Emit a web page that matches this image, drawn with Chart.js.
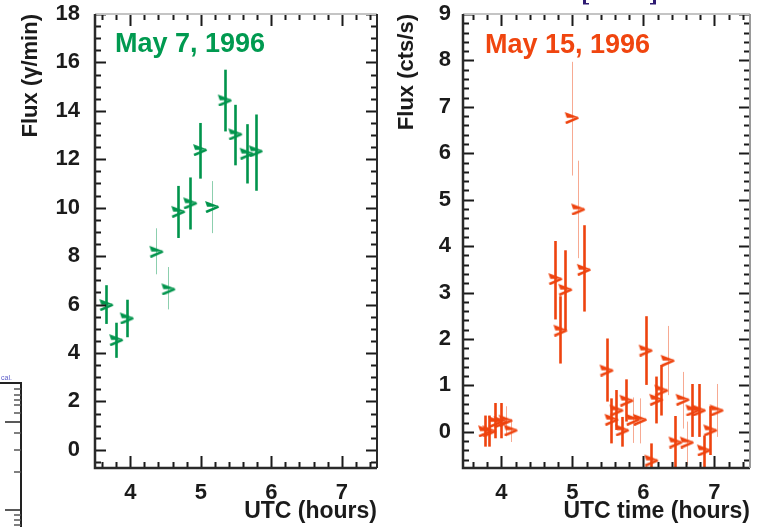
<!DOCTYPE html>
<html>
<head>
<meta charset="utf-8">
<script src="https://cdn.jsdelivr.net/npm/chart.js@4.4.1/dist/chart.umd.min.js"></script>
<style>
  html, body { margin: 0; padding: 0; background: #fff; width: 761px; height: 527px; overflow: hidden; }
  canvas { position: absolute; top: 0; }
  #edge { left: 0; }
  #may7 { left: 0; }
  #may15 { left: 385px; }
</style>
</head>
<body>
<canvas id="edge" width="761" height="527"></canvas>
<canvas id="may7" width="385" height="527"></canvas>
<canvas id="may15" width="376" height="527"></canvas>
<script>
// ---- May 7, 1996: gamma-ray flux (γ/min) vs UTC ----
const may7Time = [3.66, 3.80, 3.95, 4.37, 4.54, 4.68, 4.85, 4.99, 5.16, 5.34, 5.49, 5.65, 5.78];
const may7Flux = [6.0, 4.55, 5.45, 8.2, 6.65, 9.85, 10.2, 12.4, 10.05, 14.45, 13.05, 12.25, 12.35];
const may7Low  = [5.2, 3.8, 4.65, 7.25, 5.8, 8.75, 9.1, 11.2, 8.95, 13.15, 11.75, 11.0, 10.7];
const may7High = [6.8, 5.25, 6.2, 9.15, 7.55, 10.9, 11.25, 13.5, 11.1, 15.7, 14.25, 13.45, 13.85];
const may7YTicks = [0, 2, 4, 6, 8, 10, 12, 14, 16, 18];

// ---- May 15, 1996: count rate (cts/s) vs UTC ----
const may15Time = [3.77, 3.83, 3.91, 3.99, 4.06, 4.13, 4.76, 4.83, 4.90, 4.99, 5.08, 5.16,
                   5.48, 5.55, 5.62, 5.70, 5.76, 5.85, 5.95, 6.03, 6.11, 6.18, 6.25, 6.34,
                   6.45, 6.55, 6.61, 6.69, 6.78, 6.85, 6.94, 7.03];
const may15Flux = [0.02, 0.02, 0.22, 0.22, 0.25, 0.04, 3.30, 2.19, 3.07, 6.77, 4.80, 3.50,
                   1.33, 0.27, 0.47, 0.04, 0.68, 0.27, 0.27, 1.76, -0.61, 0.70, 0.90, 1.54,
                   -0.22, 0.70, -0.22, 0.47, 0.47, -0.39, 0.04, 0.47];
const may15Low  = [-0.32, -0.32, -0.14, -0.14, -0.10, -0.22, 2.42, 1.47, 2.19, 5.52, 3.74, 2.59,
                   0.65, -0.25, 0.04, -0.32, 0.22, -0.24, -0.25, 1.01, -1.0, 0.18, 0.35, 0.79,
                   -0.78, 0.07, -0.72, -0.11, -0.11, -1.0, -0.50, -0.11];
const may15High = [0.35, 0.35, 0.62, 0.62, 0.55, 0.27, 4.11, 2.92, 3.91, 7.97, 5.84, 4.45,
                   2.01, 0.72, 0.90, 0.32, 1.13, 0.74, 0.72, 2.49, -0.25, 1.19, 1.44, 2.28,
                   0.34, 1.29, 0.22, 1.03, 1.03, -0.08, 0.55, 1.03];
const may15YTicks = [0, 1, 2, 3, 4, 5, 6, 7, 8, 9];

const timeTicks = [4, 5, 6, 7];

// bars drawn as thin hairlines
const may7Faint = [3, 4, 8];
const may15Faint = [4, 5, 9, 10, 17, 18, 23, 25, 26, 31];

const GREEN = '#00944c';
const GREEN_FAINT = 'rgba(0,148,76,0.45)';
const RED = '#ee430e';
const RED_FAINT = 'rgba(238,67,14,0.45)';
const INK = '#1b1b1b';
const FONT = "'Liberation Sans', Arial, sans-serif";

// right-pointing chevron marker
function chevron(color) {
  const c = document.createElement('canvas');
  c.width = 16; c.height = 13;
  const g = c.getContext('2d');
  g.fillStyle = color;
  g.strokeStyle = color;
  g.beginPath();
  g.moveTo(1, 1);
  g.lineTo(15, 6.3);
  g.lineTo(9, 6.8);
  g.lineTo(3, 6.8);
  g.closePath();
  g.fill();
  g.lineWidth = 2.6;
  g.lineCap = 'butt';
  g.beginPath();
  g.moveTo(14.5, 6.6);
  g.lineTo(2, 12);
  g.stroke();
  return c;
}

function errorBars(time, low, high, faint, color, faintColor) {
  return {
    id: 'errorBars',
    beforeDatasetsDraw(chart) {
      const { ctx, chartArea: a, scales: { x, y } } = chart;
      ctx.save();
      ctx.beginPath();
      ctx.rect(a.left, a.top, a.width, a.height);
      ctx.clip();
      time.forEach((t, i) => {
        const thin = faint.includes(i);
        const px = Math.round(x.getPixelForValue(t)) + 0.5;
        ctx.strokeStyle = thin ? faintColor : color;
        ctx.lineWidth = thin ? 1 : 2.6;
        ctx.beginPath();
        ctx.moveTo(px, y.getPixelForValue(low[i]));
        ctx.lineTo(px, y.getPixelForValue(high[i]));
        ctx.stroke();
      });
      ctx.restore();
    }
  };
}

// box outline plus inward tick marks on all four sides
function frame(cfg) {
  return {
    id: 'frame',
    afterDraw(chart) {
      const { ctx, chartArea: a, scales: { x, y } } = chart;
      const isMajor = (v, step) => Math.abs(v / step - Math.round(v / step)) < 1e-6;
      ctx.save();
      ctx.strokeStyle = INK;
      ctx.lineWidth = 2;
      // horizontal axis ticks
      for (let k = Math.ceil(x.min / cfg.xMinor - 1e-6); k * cfg.xMinor <= x.max + 1e-6; k++) {
        const v = k * cfg.xMinor;
        const px = Math.round(x.getPixelForValue(v)) + 0.5;
        const major = isMajor(v, cfg.xMajor);
        const len = major ? 12 : 6;
        ctx.beginPath();
        ctx.moveTo(px, a.bottom); ctx.lineTo(px, a.bottom - len);
        ctx.moveTo(px, a.top); ctx.lineTo(px, a.top + len);
        ctx.stroke();
      }
      // vertical axis ticks
      for (let k = Math.ceil(y.min / cfg.yMinor - 1e-6); k * cfg.yMinor <= y.max + 1e-6; k++) {
        const v = k * cfg.yMinor;
        const py = Math.round(y.getPixelForValue(v)) + 0.5;
        const major = isMajor(v, cfg.yMajor);
        const len = major ? 11 : 6;
        ctx.beginPath();
        ctx.moveTo(a.left, py); ctx.lineTo(a.left + len, py);
        ctx.moveTo(a.right, py); ctx.lineTo(a.right - len, py);
        ctx.stroke();
      }
      // outline
      ctx.lineWidth = 2;
      ctx.strokeStyle = '#c4c4c4';
      ctx.beginPath();
      ctx.moveTo(a.left, a.top); ctx.lineTo(a.right, a.top);
      ctx.stroke();
      ctx.strokeStyle = '#2a2a2a';
      ctx.lineWidth = 2.5;
      ctx.beginPath();
      ctx.moveTo(a.left, a.top); ctx.lineTo(a.left, a.bottom); ctx.lineTo(a.right, a.bottom);
      ctx.stroke();
      ctx.strokeStyle = cfg.rightEdge;
      ctx.lineWidth = 2;
      ctx.beginPath();
      ctx.moveTo(a.right, a.top); ctx.lineTo(a.right, a.bottom);
      ctx.stroke();
      // date caption inside the box
      ctx.fillStyle = cfg.captionColor;
      ctx.font = `bold ${cfg.captionSize}px ${FONT}`;
      ctx.textAlign = 'left';
      ctx.textBaseline = 'alphabetic';
      ctx.fillText(cfg.caption, a.left + cfg.captionDx, a.top + cfg.captionDy);
      ctx.restore();
    }
  };
}

function makeChart(id, d) {
  const tickFont = { family: FONT, size: 22, weight: 'bold' };
  const titleFont = { family: FONT, size: 23, weight: 'bold' };
  return new Chart(document.getElementById(id), {
    type: 'scatter',
    data: {
      datasets: [{
        data: d.time.map((t, i) => ({ x: t, y: d.flux[i] })),
        pointStyle: chevron(d.color),
        pointRadius: 7,
        clip: false
      }]
    },
    options: {
      responsive: false,
      animation: false,
      layout: { padding: { top: 14, right: d.padRight, left: 0, bottom: 0 } },
      plugins: { legend: { display: false }, tooltip: { enabled: false } },
      scales: {
        x: {
          type: 'linear', min: d.xMin, max: 7.5,
          afterBuildTicks: s => { s.ticks = timeTicks.map(v => ({ value: v })); },
          afterFit: s => { s.height = 59; s.paddingLeft = 0; s.paddingRight = 0; },
          grid: { display: false, drawTicks: false },
          border: { display: false },
          ticks: { padding: 12, color: INK, font: tickFont },
          title: { display: true, text: d.xTitle, align: 'end', color: INK, font: titleFont,
                   padding: { top: 0, bottom: 2 } }
        },
        y: {
          type: 'linear', min: d.yMin, max: d.yMax,
          afterBuildTicks: s => { s.ticks = d.yTicks.map(v => ({ value: v })); },
          afterFit: s => { s.width = d.yWidth; s.paddingTop = 0; s.paddingBottom = 0; },
          grid: { display: false, drawTicks: false },
          border: { display: false },
          ticks: { padding: d.yPad, color: INK, font: tickFont },
          title: { display: true, text: d.yTitle, align: 'end', color: INK, font: { family: FONT, size: 22, weight: 'bold' },
                   padding: { top: d.yTitlePad, bottom: 0 } }
        }
      }
    },
    plugins: [errorBars(d.time, d.low, d.high, d.faint, d.color, d.faintColor), frame(d.frame)]
  });
}

makeChart('may7', {
  time: may7Time, flux: may7Flux, low: may7Low, high: may7High, faint: may7Faint,
  color: GREEN, faintColor: GREEN_FAINT,
  xMin: 3.5, yMin: -0.75, yMax: 18, yTicks: may7YTicks,
  xTitle: 'UTC (hours)', yTitle: 'Flux (γ/min)',
  yWidth: 95, yPad: 15, yTitlePad: 18, padRight: 4,
  frame: { xMinor: 0.2, xMajor: 1, yMinor: 0.5, yMajor: 2, rightEdge: '#2a2a2a',
           caption: 'May 7, 1996', captionColor: '#009a50', captionSize: 27, captionDx: 20, captionDy: 38 }
});

makeChart('may15', {
  time: may15Time, flux: may15Flux, low: may15Low, high: may15High, faint: may15Faint,
  color: RED, faintColor: RED_FAINT,
  xMin: 3.46, yMin: -0.78, yMax: 9, yTicks: may15YTicks,
  xTitle: 'UTC time (hours)', yTitle: 'Flux (cts/s)',
  yWidth: 78, yPad: 12, yTitlePad: 9, padRight: 11,
  frame: { xMinor: 0.2, xMajor: 1, yMinor: 0.2, yMajor: 1, rightEdge: '#9a9a9a',
           caption: 'May 15, 1996', captionColor: '#f0450f', captionSize: 27, captionDx: 22, captionDy: 39 }
});

// neighbouring panel edges around the two plots
(function () {
  const g = document.getElementById('edge').getContext('2d');
  g.strokeStyle = '#222';
  g.lineWidth = 2;
  g.beginPath();
  g.moveTo(0, 383); g.lineTo(21, 383); g.lineTo(21, 527);
  g.stroke();
  g.lineWidth = 1.5;
  g.strokeStyle = '#555';
  [389, 395, 400, 405, 413, 433, 450, 472, 515, 520, 525].forEach(yy => {
    g.beginPath(); g.moveTo(21, yy); g.lineTo(14, yy); g.stroke();
  });
  g.strokeStyle = '#222';
  [422, 510].forEach(yy => {
    g.beginPath(); g.moveTo(21, yy); g.lineTo(5, yy); g.stroke();
  });
  g.fillStyle = '#5a5ac8';
  g.font = `7px ${FONT}`;
  g.fillText('cal.', 1, 380);

  // bracket bits along the top edge
  g.fillStyle = '#2e1a72';
  g.fillRect(583, 0, 3, 4); g.fillRect(583, 3, 6, 1.5);
  g.fillRect(653, 0, 3, 4); g.fillRect(650, 3, 6, 1.5);
})();
</script>
</body>
</html>
